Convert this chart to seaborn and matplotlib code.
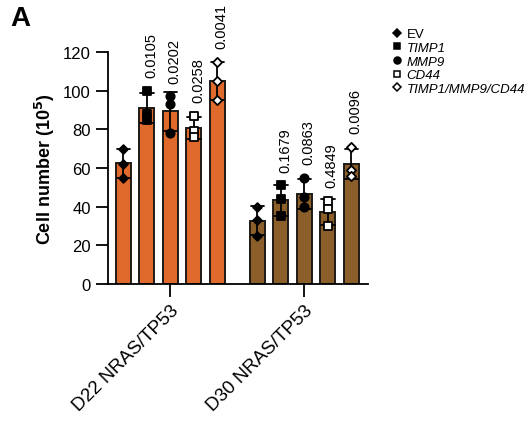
import pandas as pd
import matplotlib
matplotlib.use('Agg')
import matplotlib.pyplot as plt
import seaborn as sns
from matplotlib.lines import Line2D

groups = ['D22 NRAS/TP53', 'D30 NRAS/TP53']
constructs = ['EV', 'TIMP1', 'MMP9', 'CD44', 'TIMP1/MMP9/CD44']
d22_reps = [[70, 62, 55], [100, 88, 85], [97, 93, 78], [87, 79, 76], [115, 105, 95]]
d30_reps = [[40, 33, 25], [51, 44, 35], [55, 45, 40], [43, 39, 30], [71, 59, 56]]
d22_p = ['', '0.0105', '0.0202', '0.0258', '0.0041']
d30_p = ['', '0.1679', '0.0863', '0.4849', '0.0096']
group_colors = ['#E06A2C', '#8C5F2A']

rows = []
for g, reps in zip(groups, [d22_reps, d30_reps]):
    for c, vals in zip(constructs, reps):
        for v in vals:
            rows.append({'group': g, 'construct': c, 'value': v})
df = pd.DataFrame(rows)

sns.set_style('ticks', {'axes.edgecolor': 'black', 'text.color': 'black',
                        'axes.labelcolor': 'black', 'xtick.color': 'black',
                        'ytick.color': 'black'})
plt.rcParams['font.family'] = ['Liberation Sans', 'DejaVu Sans']

fig = plt.figure(figsize=(5.27, 4.27), dpi=100)
ax = fig.add_axes([0.205, 0.3326, 0.493, 0.5433])

width = 0.877
slot = width / len(constructs)
sns.barplot(data=df, x='group', y='value', hue='construct', order=groups,
            hue_order=constructs, width=width, gap=0.36, errorbar='sd',
            capsize=0.5, err_kws={'color': 'black', 'linewidth': 1.3},
            edgecolor='#1e1a16', linewidth=1.4, legend=False, ax=ax)

for p in ax.patches:
    cx = p.get_x() + p.get_width() / 2
    p.set_facecolor(group_colors[int(round(cx))])

marker_style = {
    'EV': ('D', 'black', 20),
    'TIMP1': ('s', 'black', 34),
    'MMP9': ('o', 'black', 36),
    'CD44': ('s', 'white', 34),
    'TIMP1/MMP9/CD44': ('D', 'white', 22),
}

for gi, g in enumerate(groups):
    for hi, c in enumerate(constructs):
        sub = df[(df['group'] == g) & (df['construct'] == c)]
        xpos = [gi + (hi - 2) * slot] * len(sub)
        m, fc, s = marker_style[c]
        sns.scatterplot(x=xpos, y=sub['value'].values, marker=m, color=fc,
                        edgecolor='black', linewidth=1.3, s=s, zorder=5,
                        legend=False, ax=ax)

for gi, pvals in enumerate([d22_p, d30_p]):
    reps = [d22_reps, d30_reps][gi]
    for hi, p in enumerate(pvals):
        if p:
            ax.text(gi + (hi - 2) * slot + 0.03, max(reps[hi]) + 7, p,
                    rotation=90, ha='center', va='bottom', fontsize=10.5)

ax.set_xlim(-0.466, 1.474)
ax.set_ylim(0, 120)
ax.set_yticks(range(0, 121, 20))
ax.tick_params(axis='y', labelsize=12, length=9, width=1.3)
ax.tick_params(axis='x', labelsize=13.5, length=9, width=1.3)
ax.set_xticks([0, 1])
ax.set_xticklabels(groups, rotation=45, ha='right', rotation_mode='anchor')
ax.set_xlabel('')
ax.set_ylabel(r'Cell number (10$^\mathbf{5}$)', fontsize=13, fontweight='bold')
for side in ['left', 'bottom']:
    ax.spines[side].set_linewidth(1.3)
sns.despine(ax=ax)

handles = []
for c in constructs:
    m, fc, s = marker_style[c]
    handles.append(Line2D([], [], marker=m, color='black', markerfacecolor=fc,
                          linestyle='None', markersize=4 if m == 'D' else 5,
                          markeredgewidth=1.1))
leg = fig.legend(handles, constructs, loc='upper left', bbox_to_anchor=(0.73, 0.947),
                 frameon=False, fontsize=9.5, handletextpad=0.35, labelspacing=0.1,
                 handlelength=0.8, borderpad=0)
for t in leg.get_texts()[1:]:
    t.set_fontstyle('italic')

fig.text(0.02, 0.985, 'A', fontsize=20, fontweight='bold', va='top', ha='left')

fig.savefig('out.png', dpi=100)
